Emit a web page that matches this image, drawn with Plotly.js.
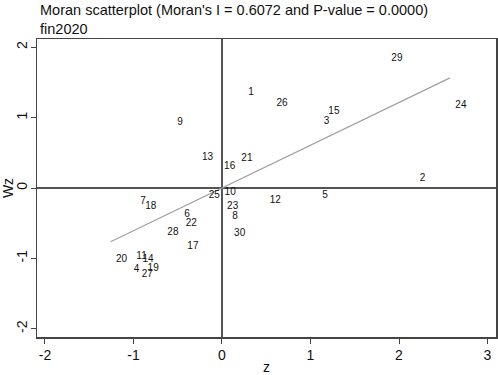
<!DOCTYPE html>
<html>
<head>
<meta charset="utf-8">
<script src="https://cdn.plot.ly/plotly-3.0.1.min.js"></script>
<style>html,body{margin:0;padding:0;background:#fff;}#chart{width:498px;height:375px;}</style>
</head>
<body>
<div id="chart"></div>
<script>
// Region ids (labels)
const regionLabels = ['1','2','3','4','5','6','7','8','9','10','11','12','13','14','15','16','17','18','19','20','21','22','23','24','25','26','27','28','29','30'];
// Standardized variable z
const zValues = [0.237, 2.175, 1.090, -1.059, 1.071, -0.486, -0.983, 0.056, -0.565, -0.031,
                 -1.028, 0.478, -0.286, -0.960, 1.141, -0.037, -0.452, -0.927, -0.901, -1.258,
                 0.158, -0.471, -0.003, 2.576, -0.211, 0.554, -0.968, -0.678, 1.853, 0.076];
// Spatial lag Wz
const wzValues = [1.362, 0.128, 0.944, -1.157, -0.100, -0.374, -0.195, -0.409, 0.930, -0.067,
                  -0.975, -0.171, 0.427, -1.018, 1.082, 0.303, -0.836, -0.256, -1.143, -1.015,
                  0.413, -0.502, -0.256, 1.172, -0.100, 1.206, -1.224, -0.631, 1.846, -0.645];
const moranI = 0.6072;
const pValue = '0.0000';
const varName = 'fin2020';
const xTicks = [-2, -1, 0, 1, 2, 3];
const xTickText = ['-2', '-1', '0', '1', '2', '3'];
const yTicks = [-2, -1, 0, 1, 2];
const yTickText = ['-2', '-1', '0', '1', '2'];

const zMin = Math.min(...zValues), zMax = Math.max(...zValues);
const fitX = [zMin, zMax];
const fitY = fitX.map(v => moranI * v);

const FONT = 'Liberation Sans, Arial, sans-serif';

const traces = [
  {
    x: fitX, y: fitY, mode: 'lines', type: 'scatter',
    line: {color: '#a0a0a0', width: 1.2}, hoverinfo: 'skip', showlegend: false
  },
  {
    x: zValues, y: wzValues, mode: 'markers+text', type: 'scatter',
    text: regionLabels, textposition: 'middle right',
    marker: {size: 7, opacity: 0, color: '#000'},
    textfont: {family: FONT, size: 10, color: '#111'},
    showlegend: false
  }
];

const axisCommon = {
  showgrid: false, zeroline: true, zerolinecolor: '#555', zerolinewidth: 1.5,
  showline: true, mirror: true, linecolor: '#444', linewidth: 1.5,
  ticks: 'outside', ticklen: 5, tickwidth: 1, tickcolor: '#444',
  tickfont: {family: FONT, size: 14, color: '#111'},
  tickmode: 'array', automargin: false
};

const layout = {
  width: 498, height: 375,
  margin: {l: 37, r: 2, t: 39, b: 38},
  paper_bgcolor: '#fff', plot_bgcolor: '#fff',
  font: {family: FONT, color: '#111'},
  title: {
    text: "Moran scatterplot (Moran's I = " + moranI.toFixed(4) + " and P-value = " + pValue + ")<br>" + varName,
    xref: 'container', x: 40 / 498, xanchor: 'left',
    yref: 'container', y: 1, yanchor: 'top', pad: {t: 15},
    font: {family: FONT, size: 14.5, color: '#111'}
  },
  xaxis: Object.assign({}, axisCommon, {
    range: [-2.09, 3.096], tickvals: xTicks, ticktext: xTickText,
    title: {text: 'z', standoff: 2, font: {size: 14}}
  }),
  yaxis: Object.assign({}, axisCommon, {
    range: [-2.117, 2.117], tickvals: yTicks, ticktext: yTickText, tickangle: -90,
    ticklabelstandoff: -2,
    title: {text: 'Wz', standoff: 4, font: {size: 14}}
  })
};

Plotly.newPlot('chart', traces, layout, {displayModeBar: false, staticPlot: true});
</script>
</body>
</html>
